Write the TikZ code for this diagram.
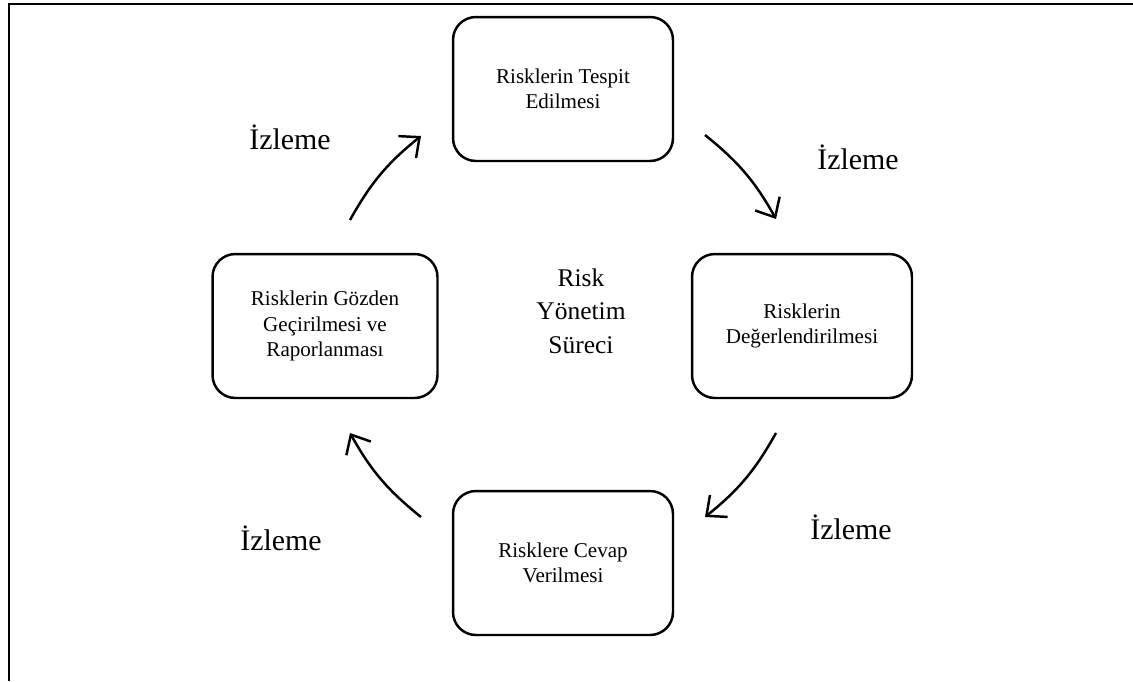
\documentclass[tikz,border=0pt]{standalone}
\usepackage{fontspec}
\setmainfont{Liberation Serif}
\usetikzlibrary{arrows.meta}

\tikzset{
  adim/.style={draw, line width=1.4pt, rounded corners=13pt, align=center,
    minimum width=4.4cm, minimum height=2.88cm,
    font=\fontsize{12}{14.5}\selectfont},
  izle/.style={font=\fontsize{17}{20}\selectfont},
  dongu/.style={line width=1.4pt, -{Straight Barb[length=9pt,width=16pt,line width=1.4pt]}}
}

\begin{document}
\begin{tikzpicture}[x=0.02cm,y=-0.02cm]
  \useasboundingbox (0,0) rectangle (1133,681);

  % frame
  \draw[line width=1.6pt] (9,681) -- (9,4) -- (1133,4);

  % process steps
  \node[adim] (tespit) at (563,89) {Risklerin Tespit\\Edilmesi};
  \node[adim] (deger) at (802,326) {Risklerin\\Değerlendirilmesi};
  \node[adim] (cevap) at (563,563) {Risklere Cevap\\Verilmesi};
  \node[adim, minimum width=4.5cm] (gozden) at (325,326)
    {Risklerin Gözden\\Geçirilmesi ve\\Raporlanması};

  \node[align=center, font=\fontsize{14.5}{19}\selectfont] (surec) at (581,311)
    {Risk\\Yönetim\\Süreci};

  % arrow ends
  \coordinate (a1) at (350,220); \coordinate (b1) at (421,136);
  \coordinate (a2) at (705,135); \coordinate (b2) at (776,219);
  \coordinate (a3) at (776,433); \coordinate (b3) at (705,517);
  \coordinate (a4) at (421,517); \coordinate (b4) at (350,433);

  \foreach \i in {1,...,4}
    \draw[dongu] (a\i) to[bend left=11] (b\i);

  \node[izle] (iz1) at (290,137) {İzleme};
  \node[izle] (iz2) at (858,157) {İzleme};
  \node[izle] (iz3) at (851,527) {İzleme};
  \node[izle] (iz4) at (281,538) {İzleme};
\end{tikzpicture}
\end{document}
